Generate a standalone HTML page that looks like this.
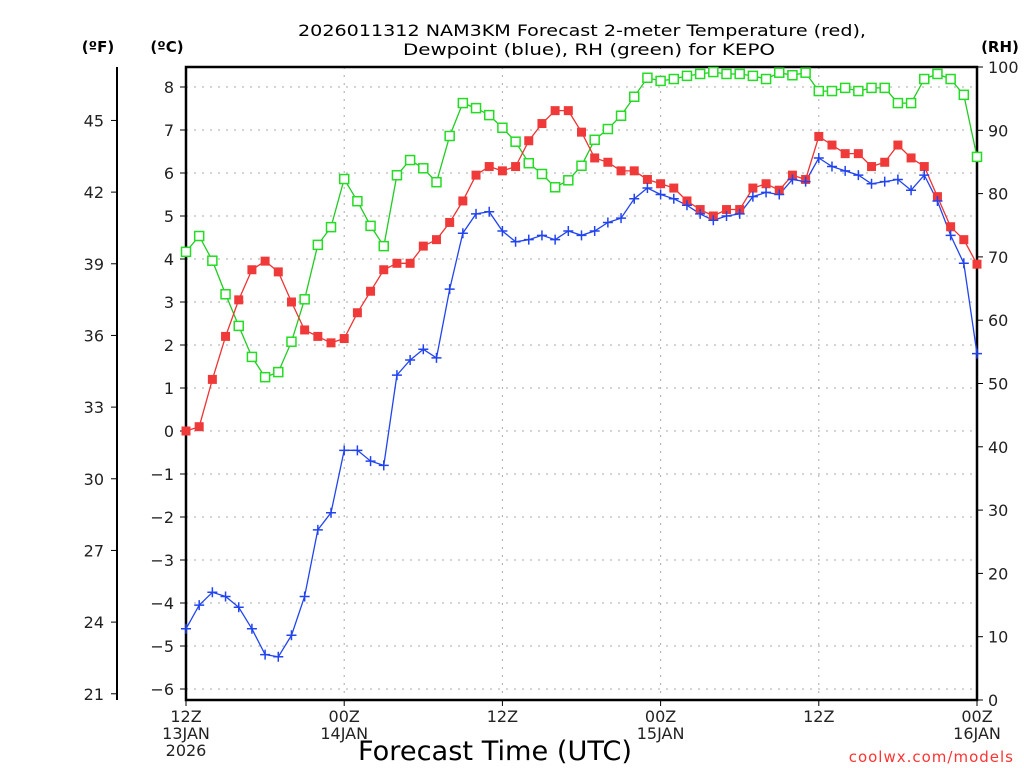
<!DOCTYPE html>
<html><head><meta charset="utf-8"><style>
body{margin:0;background:#fff;}
svg{display:block;font-family:"DejaVu Sans","Liberation Sans",sans-serif;}
</style></head><body>
<svg id="chart" width="1024" height="768" viewBox="0 0 1024 768" xmlns="http://www.w3.org/2000/svg">
<g id="grid"></g>
<g id="axes"></g>
<g id="series"></g>
<text x="298" y="36" textLength="568" lengthAdjust="spacingAndGlyphs" font-size="16" fill="#000">2026011312 NAM3KM Forecast 2-meter Temperature (red),</text>
<text x="403" y="55" textLength="372" lengthAdjust="spacingAndGlyphs" font-size="16" fill="#000">Dewpoint (blue), RH (green) for KEPO</text>
<text x="98" y="52" text-anchor="middle" font-size="15" font-weight="bold">(ºF)</text>
<text x="167" y="52" text-anchor="middle" font-size="15" font-weight="bold">(ºC)</text>
<text x="1000" y="52" text-anchor="middle" font-size="15" font-weight="bold">(RH)</text>
<text x="358" y="760" textLength="274" lengthAdjust="spacingAndGlyphs" font-size="27" fill="#000">Forecast Time (UTC)</text>
<text x="1014" y="762" text-anchor="end" font-size="15" fill="#ff3333" letter-spacing="1">coolwx.com/models</text>
</svg>
<script>
const hours = [0,1,2,3,4,5,6,7,8,9,10,11,12,13,14,15,16,17,18,19,20,21,22,23,24,25,26,27,28,29,30,31,32,33,34,35,36,37,38,39,40,41,42,43,44,45,46,47,48,49,50,51,52,53,54,55,56,57,58,59,60];
const tempC = [0.0,0.1,1.2,2.2,3.05,3.75,3.95,3.7,3.0,2.35,2.2,2.05,2.15,2.75,3.25,3.75,3.9,3.9,4.3,4.45,4.85,5.35,5.95,6.15,6.05,6.15,6.75,7.15,7.45,7.45,6.95,6.35,6.25,6.05,6.05,5.85,5.75,5.65,5.35,5.15,5.0,5.15,5.15,5.65,5.75,5.6,5.95,5.85,6.85,6.65,6.45,6.45,6.15,6.25,6.65,6.35,6.15,5.45,4.75,4.45,3.88];
const dewC = [-4.6,-4.05,-3.75,-3.85,-4.1,-4.6,-5.2,-5.25,-4.75,-3.85,-2.3,-1.9,-0.45,-0.45,-0.7,-0.8,1.3,1.65,1.9,1.7,3.3,4.6,5.05,5.1,4.65,4.4,4.45,4.55,4.45,4.65,4.55,4.65,4.85,4.95,5.4,5.65,5.5,5.4,5.25,5.05,4.9,5.0,5.05,5.45,5.55,5.5,5.85,5.8,6.35,6.15,6.05,5.95,5.75,5.8,5.85,5.6,5.95,5.35,4.55,3.9,1.8];
const rh = [70.8,73.3,69.4,64.1,59.1,54.2,51.0,51.8,56.6,63.3,71.9,74.7,82.3,78.8,74.9,71.7,82.9,85.3,84.0,81.8,89.1,94.3,93.5,92.4,90.4,88.2,84.8,83.1,81.0,82.1,84.4,88.5,90.2,92.3,95.3,98.3,97.8,98.1,98.6,98.9,99.2,98.9,98.9,98.6,98.1,99.1,98.7,99.1,96.2,96.2,96.7,96.2,96.7,96.7,94.3,94.3,98.1,98.9,98.1,95.6,85.8];
const cTicks = [8,7,6,5,4,3,2,1,0,-1,-2,-3,-4,-5,-6];
const fTicks = [45,42,39,36,33,30,27,24,21];
const rhTicks = [0,10,20,30,40,50,60,70,80,90,100];
const xTickHours = [0,12,24,36,48,60];
const xTickLabels = [["12Z","13JAN","2026"],["00Z","14JAN"],["12Z"],["00Z","15JAN"],["12Z"],["00Z","16JAN"]];

const NS="http://www.w3.org/2000/svg";
const L=186,R=977,T=67,B=700;
const xs=h=>L+(h/60)*(R-L);
const yc=c=>87+(8-c)*43;
const yf=f=>yc((f-32)*5/9);
const yr=v=>B-(v/100)*(B-T);
function mk(tag,attrs,parent){const e=document.createElementNS(NS,tag);for(const k in attrs)e.setAttribute(k,attrs[k]);parent.appendChild(e);return e;}
const grid=document.getElementById('grid'),axes=document.getElementById('axes'),ser=document.getElementById('series');

cTicks.forEach(c=>{
  const g=mk('line',{x1:L,x2:R,y1:yc(c),y2:yc(c),stroke:'#aaa','stroke-dasharray':'2,6'},grid);
  
  
  const t=mk('line',{x1:L-6,x2:L,y1:yc(c),y2:yc(c),stroke:'#000'},axes);
  
  
  const tx=mk('text',{x:L-12,y:yc(c)+6,'text-anchor':'end','font-size':16,fill:'#222'},axes);
  tx.textContent=(c<0?'\u2212'+(-c):c);
  
  
});
[12,24,36,48].forEach(h=>{
  const g=mk('line',{x1:xs(h),x2:xs(h),y1:T,y2:B,stroke:'#aaa','stroke-dasharray':'2,6'},grid);
  
  
});
const fr=mk('rect',{x:L,y:T,width:R-L,height:B-T,fill:'none',stroke:'#000','stroke-width':2.5},axes);


const fa=mk('line',{x1:117,x2:117,y1:T,y2:B,stroke:'#000','stroke-width':2},axes);


fTicks.forEach(f=>{
  const t=mk('line',{x1:111,x2:117,y1:yf(f),y2:yf(f),stroke:'#000'},axes);
  
  
  const tx=mk('text',{x:104,y:yf(f)+6,'text-anchor':'end','font-size':16,fill:'#222'},axes);
  tx.textContent=f;
  
  
});
rhTicks.forEach(v=>{
  const t=mk('line',{x1:R,x2:R+6,y1:yr(v),y2:yr(v),stroke:'#000'},axes);
  
  
  const tx=mk('text',{x:R+11,y:yr(v)+6,'text-anchor':'start','font-size':16,fill:'#222'},axes);
  tx.textContent=v;
  
  
});
xTickHours.forEach((h,i)=>{
  const t=mk('line',{x1:xs(h),x2:xs(h),y1:B,y2:B+6,stroke:'#000'},axes);
  
  
  xTickLabels[i].forEach((s,j)=>{
    const tx=mk('text',{x:xs(h),y:B+22+j*17,'text-anchor':'middle','font-size':16,fill:'#222'},axes);
    tx.textContent=s;
    
    
  });
});

function line(vals,yfn,color,name){
  const pts=hours.map((h,i)=>xs(h).toFixed(1)+','+yfn(vals[i]).toFixed(1)).join(' ');
  const p=mk('polyline',{points:pts,fill:'none',stroke:color,'stroke-width':1.3},ser);
  
  
}
line(rh,yr,'#22cc22','rh');
line(tempC,yc,'#ee3333','temperature');
line(dewC,yc,'#2244ee','dewpoint');
hours.forEach((h,i)=>{
  const x=xs(h);
  const g=mk('rect',{x:x-4.5,y:yr(rh[i])-4.5,width:9,height:9,fill:'#fff',stroke:'#22dd22','stroke-width':1.5},ser);
  
  
  const r=mk('rect',{x:x-4.5,y:yc(tempC[i])-4.5,width:9,height:9,fill:'#f03a3a'},ser);
  
  
  const y=yc(dewC[i]);
  const b=mk('path',{d:`M${x-5},${y}H${x+5}M${x},${y-5}V${y+5}`,stroke:'#2244ee','stroke-width':1.5},ser);
  
  
});
</script>
</body></html>
